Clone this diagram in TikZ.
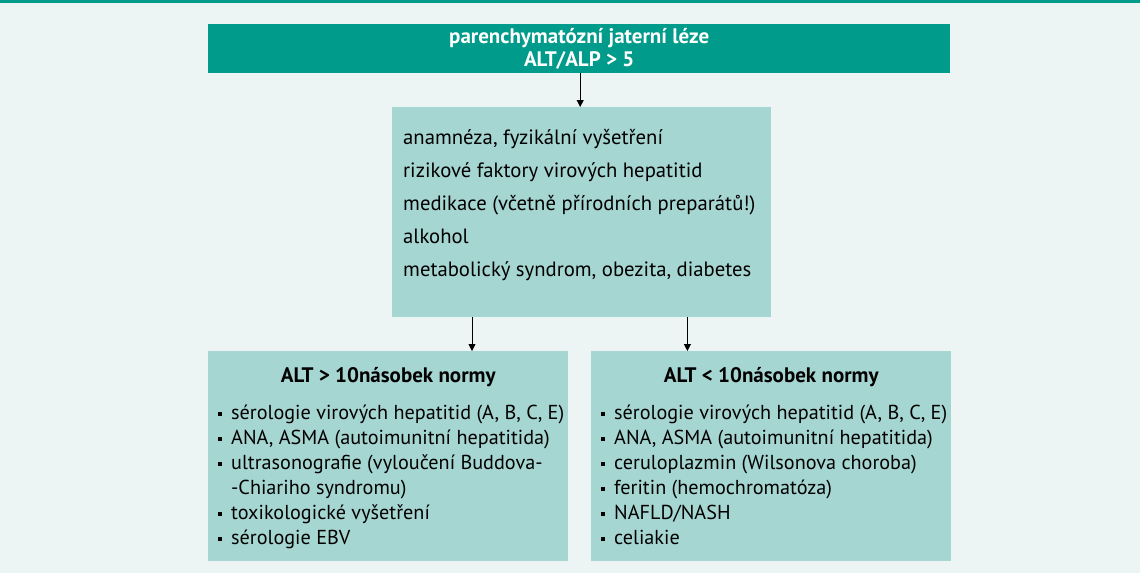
\documentclass[tikz,border=0pt]{standalone}
\usepackage{fontspec}
\setmainfont{PT Sans}
\usetikzlibrary{positioning,arrows.meta}

\definecolor{zelenaTmava}{RGB}{0,155,138}
\definecolor{zelenaSvetla}{RGB}{166,214,210}
\definecolor{pozadi}{RGB}{236,245,243}

\newcommand\odrazka{\makebox[13pt][l]{\raisebox{3.5pt}{\rule{4pt}{4pt}}}}
\newcommand\odsazeni{\hspace*{13pt}}

\begin{document}
\begin{tikzpicture}[x=1pt,y=-1pt,
  hlavni/.style={fill=zelenaTmava, text=white, anchor=north west, inner sep=0pt,
    minimum width=742pt, minimum height=49pt, align=center,
    font=\fontsize{21}{23}\selectfont\bfseries},
  ram/.style={fill=zelenaSvetla, anchor=north west, inner sep=0pt},
  sipka/.style={-{Triangle[length=7pt,width=7pt]}, line width=0.8pt}]

  % pozadi a horni linka
  \useasboundingbox (0,0) rectangle (1140,573);
  \fill[pozadi] (0,0) rectangle (1140,573);
  \fill[zelenaTmava] (0,0) rectangle (1140,3);

  \node[hlavni] (lezeTop) at (208,24) {parenchymatózní jaterní léze\\ALT/ALP > 5};

  \node[ram] (anamneza) at (392,107) {\parbox[c][210pt][t]{379pt}{%
    \fontsize{20.7}{33}\selectfont\leftskip=11pt
    \rule{0pt}{37pt}anamnéza, fyzikální vyšetření\\
    rizikové faktory virových hepatitid\\
    medikace (včetně přírodních preparátů!)\\
    alkohol\\
    metabolický syndrom, obezita, diabetes}};

  \node[ram] (vysokeALT) at (208,351) {\parbox[c][210pt][t]{360pt}{%
    \fontsize{20.2}{25}\selectfont
    \centering{\fontsize{21}{25}\selectfont\bfseries\rule{0pt}{31pt}ALT > 10násobek normy\par}
    \raggedright\leftskip=10pt
    \rule{0pt}{32pt}\odrazka sérologie virových hepatitid (A, B, C, E)\\
    \odrazka ANA, ASMA (autoimunitní hepatitida)\\
    \odrazka ultrasonografie (vyloučení Buddova-\\
    \odsazeni -Chiariho syndromu)\\
    \odrazka toxikologické vyšetření\\
    \odrazka sérologie EBV}};

  \node[ram] (nizkeALT) at (591,351) {\parbox[c][210pt][t]{360pt}{%
    \fontsize{20.2}{25}\selectfont
    \centering{\fontsize{21}{25}\selectfont\bfseries\rule{0pt}{31pt}ALT < 10násobek normy\par}
    \raggedright\leftskip=10pt
    \rule{0pt}{32pt}\odrazka sérologie virových hepatitid (A, B, C, E)\\
    \odrazka ANA, ASMA (autoimunitní hepatitida)\\
    \odrazka ceruloplazmin (Wilsonova choroba)\\
    \odrazka feritin (hemochromatóza)\\
    \odrazka NAFLD/NASH\\
    \odrazka celiakie}};

  \draw[sipka] ([xshift=1pt]lezeTop.south) -- ([xshift=1pt]lezeTop.south |- anamneza.north);
  \draw[sipka] ([xshift=80pt]anamneza.south west) -- ([xshift=80pt]anamneza.south west |- vysokeALT.north);
  \draw[sipka] ([xshift=-84pt]anamneza.south east) -- ([xshift=-84pt]anamneza.south east |- nizkeALT.north);

\end{tikzpicture}
\end{document}
